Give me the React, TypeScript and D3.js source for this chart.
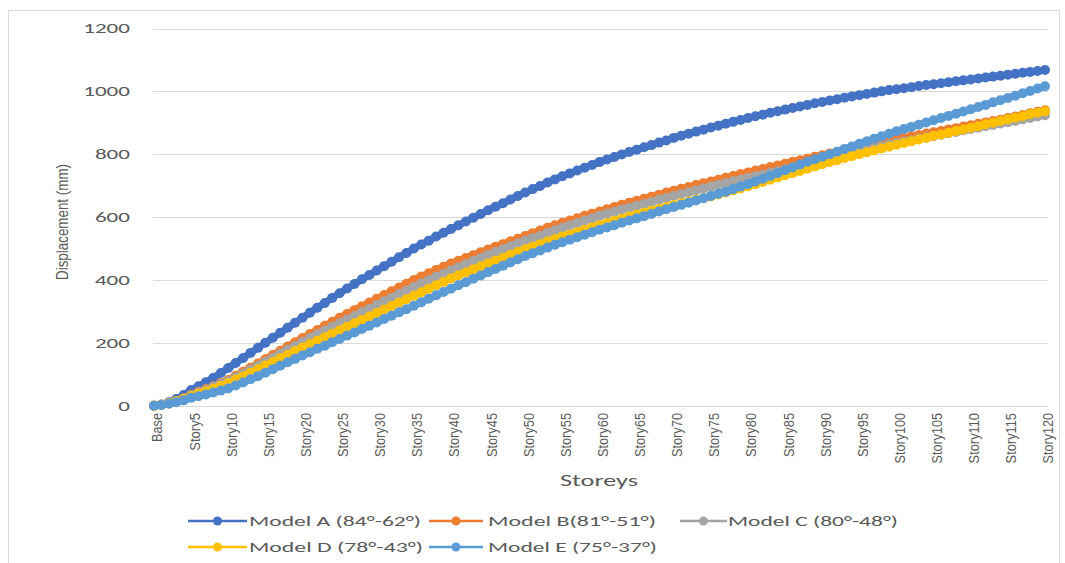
import React, { useEffect, useRef } from 'react';
import * as d3 from 'd3';

// categories along the x axis: Base, Story1 ... Story120
const storeys = ['Base', ...d3.range(1, 121).map(i => 'Story' + i)];
const tickLabels = storeys.filter((d, i) => i % 5 === 0);
const yTicks = [0, 200, 400, 600, 800, 1000, 1200];

// displacement (mm) per storey
const modelA = [0, 4, 11, 21, 34, 50,
  62, 75, 89, 104, 120, 136, 152, 168, 184, 200, 216, 232, 248, 264, 280,
  296, 312, 327, 343, 358, 373, 387, 402, 416, 430, 444, 458, 472, 486, 500,
  513, 525, 538, 550, 562, 574, 586, 598, 610, 622, 633, 644, 656, 667, 678,
  689, 699, 710, 720, 730, 739, 748, 757, 766, 775, 783, 791, 799, 807, 814,
  822, 829, 837, 844, 852, 859, 865, 872, 878, 885, 891, 897, 903, 909, 915,
  921, 926, 932, 937, 942, 947, 952, 957, 962, 966, 971, 975, 980, 984, 988,
  992, 996, 1000, 1004, 1007, 1010, 1013, 1017, 1020, 1023, 1026, 1029, 1032, 1035, 1038,
  1041, 1044, 1047, 1050, 1053, 1056, 1059, 1062, 1065, 1068];

const modelB = [0, 3, 8, 15, 24, 35,
  44, 53, 62, 72, 82, 95, 108, 121, 134, 148, 161, 175, 188, 202, 215,
  228, 241, 254, 267, 280, 292, 304, 316, 328, 340, 352, 364, 376, 388, 400,
  411, 421, 432, 442, 452, 461, 470, 479, 488, 497, 506, 514, 523, 531, 540,
  549, 557, 566, 574, 582, 589, 596, 604, 611, 618, 625, 632, 639, 646, 652,
  658, 665, 671, 678, 684, 690, 696, 702, 708, 713, 719, 725, 731, 737, 742,
  748, 753, 759, 764, 770, 776, 781, 786, 792, 797, 802, 807, 812, 817, 822,
  827, 832, 837, 842, 848, 852, 857, 861, 866, 870, 874, 879, 883, 888, 892,
  897, 901, 906, 910, 915, 920, 925, 930, 935, 940];

const modelC = [0, 3, 8, 15, 23, 33,
  42, 51, 60, 69, 78, 90, 102, 114, 127, 140, 152, 165, 178, 190, 203,
  215, 227, 239, 251, 262, 274, 285, 297, 308, 320, 332, 343, 355, 366, 378,
  389, 399, 410, 420, 430, 440, 450, 460, 470, 480, 489, 498, 507, 516, 525,
  533, 541, 550, 558, 566, 574, 581, 589, 596, 604, 611, 617, 624, 630, 636,
  642, 648, 655, 661, 667, 673, 679, 685, 691, 697, 703, 708, 714, 719, 724,
  730, 735, 741, 746, 752, 758, 763, 769, 774, 780, 786, 791, 797, 802, 808,
  814, 819, 825, 830, 835, 840, 844, 849, 853, 858, 862, 867, 871, 876, 880,
  884, 889, 893, 898, 902, 906, 911, 915, 920, 924];

const modelD = [0, 3, 8, 14, 21, 30,
  38, 46, 54, 63, 72, 83, 94, 105, 116, 128, 139, 151, 162, 174, 185,
  196, 207, 218, 229, 240, 251, 262, 273, 284, 295, 306, 317, 328, 339, 350,
  361, 372, 383, 394, 405, 415, 424, 434, 443, 452, 461, 470, 480, 489, 498,
  506, 514, 522, 530, 538, 545, 552, 560, 567, 574, 581, 588, 595, 602, 608,
  614, 620, 626, 632, 638, 644, 649, 655, 660, 666, 672, 678, 685, 691, 698,
  705, 712, 719, 726, 733, 740, 747, 754, 761, 768, 775, 781, 788, 794, 800,
  806, 812, 818, 824, 830, 836, 841, 847, 852, 858, 863, 868, 874, 879, 884,
  889, 895, 900, 906, 911, 916, 921, 927, 932, 937];

const modelE = [0, 2, 6, 11, 17, 25,
  30, 36, 42, 48, 55, 64, 74, 84, 94, 105, 116, 127, 138, 149, 160,
  170, 181, 191, 202, 212, 223, 233, 244, 254, 265, 276, 286, 297, 307, 318,
  329, 340, 351, 362, 372, 383, 393, 404, 414, 425, 435, 445, 456, 466, 476,
  485, 494, 503, 512, 520, 528, 536, 544, 552, 560, 567, 574, 582, 589, 596,
  603, 610, 618, 625, 632, 639, 646, 653, 660, 667, 674, 681, 689, 697, 705,
  713, 722, 731, 740, 749, 758, 767, 776, 784, 792, 800, 808, 817, 825, 833,
  841, 849, 857, 865, 873, 880, 887, 894, 901, 908, 915, 922, 929, 936, 943,
  950, 957, 965, 972, 979, 986, 994, 1001, 1009, 1016];

const seriesNames = ['Model A (84°-62°)', 'Model B(81°-51°)', 'Model C (80°-48°)', 'Model D (78°-43°)', 'Model E (75°-37°)'];
const seriesValues = [modelA, modelB, modelC, modelD, modelE];
const seriesColors = ['#4472C4', '#ED7D31', '#A5A5A5', '#FFC000', '#5B9BD5'];

const W = 1065, H = 563;
const textGray = '#595959';
const font = 'Calibri, Carlito, "Open Sans", "Noto Sans", sans-serif';
const narrowFont = '"Liberation Sans Narrow", "Arial Narrow", "Liberation Sans", sans-serif';

function App() {
  const ref = useRef<SVGSVGElement>(null);

  useEffect(() => {
    const svg = d3.select(ref.current);
    svg.selectAll('*').remove();

    const x = d3.scalePoint<string>().domain(storeys).range([154, 1045]);
    const y = d3.scaleLinear().domain([0, 1200]).range([405.7, 28.5]);

    // outer chart border
    svg.append('rect')
      .attr('x', 8.5).attr('y', 10.5)
      .attr('width', 1051).attr('height', 560)
      .attr('fill', '#fff').attr('stroke', '#d9d9d9');

    // gridlines
    svg.append('g').selectAll('line').data(yTicks).join('line')
      .attr('x1', 153).attr('x2', 1048)
      .attr('y1', d => Math.round(y(d)) + 0.5).attr('y2', d => Math.round(y(d)) + 0.5)
      .attr('stroke', '#d9d9d9').attr('stroke-width', 1);

    // y tick labels
    svg.append('g').selectAll('text').data(yTicks).join('text')
      .attr('x', 130).attr('y', d => y(d))
      .attr('dy', '0.35em')
      .attr('text-anchor', 'end')
      .attr('font-family', font).attr('font-size', 14)
      .attr('fill', textGray)
      .attr('textLength', d => String(d).length * 11.7)
      .attr('lengthAdjust', 'spacingAndGlyphs')
      .text(d => d);

    // x tick labels, rotated
    svg.append('g').selectAll('text').data(tickLabels).join('text')
      .attr('transform', d => `translate(${x(d)! + 3},413) rotate(-90)`)
      .attr('dy', '0.36em')
      .attr('text-anchor', 'end')
      .attr('font-family', narrowFont).attr('font-size', 15)
      .attr('fill', textGray)
      .attr('textLength', d => d === 'Base' ? 29 : d.length * 6.3)
      .attr('lengthAdjust', 'spacingAndGlyphs')
      .text(d => d);

    // axis titles
    svg.append('text')
      .attr('transform', 'translate(62,222) rotate(-90)')
      .attr('dy', '0.35em')
      .attr('text-anchor', 'middle')
      .attr('font-family', narrowFont).attr('font-size', 16)
      .attr('fill', textGray)
      .attr('textLength', 116).attr('lengthAdjust', 'spacingAndGlyphs')
      .text('Displacement (mm)');

    svg.append('text')
      .attr('x', 599).attr('y', 486)
      .attr('text-anchor', 'middle')
      .attr('font-family', font).attr('font-size', 16)
      .attr('fill', textGray)
      .attr('textLength', 78).attr('lengthAdjust', 'spacingAndGlyphs')
      .text('Storeys');

    // series: thick line + dense circle markers
    seriesValues.forEach((vals, si) => {
      const pts = vals.map((v, i) => [x(storeys[i])!, y(v)] as [number, number]);
      const g = svg.append('g');
      g.append('path')
        .attr('d', d3.line()(pts))
        .attr('fill', 'none')
        .attr('stroke', seriesColors[si])
        .attr('stroke-width', 7)
        .attr('stroke-linejoin', 'round');
      g.selectAll('circle').data(pts).join('circle')
        .attr('cx', d => d[0]).attr('cy', d => d[1])
        .attr('r', 5)
        .attr('fill', seriesColors[si]);
    });

    // legend
    const legendPos = [
      { x1: 188, x2: 247, tx: 249, ty: 521, len: 172 },
      { x1: 429, x2: 483, tx: 488, ty: 521, len: 168 },
      { x1: 680, x2: 727, tx: 728, ty: 521, len: 170 },
      { x1: 188, x2: 247, tx: 249, ty: 547, len: 174 },
      { x1: 429, x2: 483, tx: 488, ty: 547, len: 169 },
    ];
    const lg = svg.append('g');
    seriesNames.forEach((name, i) => {
      const p = legendPos[i];
      lg.append('line')
        .attr('x1', p.x1).attr('x2', p.x2)
        .attr('y1', p.ty).attr('y2', p.ty)
        .attr('stroke', seriesColors[i]).attr('stroke-width', 2.5);
      lg.append('circle')
        .attr('cx', (p.x1 + p.x2) / 2).attr('cy', p.ty)
        .attr('r', 4.5).attr('fill', seriesColors[i]);
      lg.append('text')
        .attr('x', p.tx).attr('y', p.ty)
        .attr('dy', '0.35em')
        .attr('font-family', font).attr('font-size', 14)
        .attr('fill', textGray)
        .attr('textLength', p.len).attr('lengthAdjust', 'spacingAndGlyphs')
        .text(name);
    });
  }, []);

  return (
    <svg ref={ref} width={W} height={H}
      style={{ position: 'absolute', left: 0, top: 0, background: '#fff' }} />
  );
}

export default App;
